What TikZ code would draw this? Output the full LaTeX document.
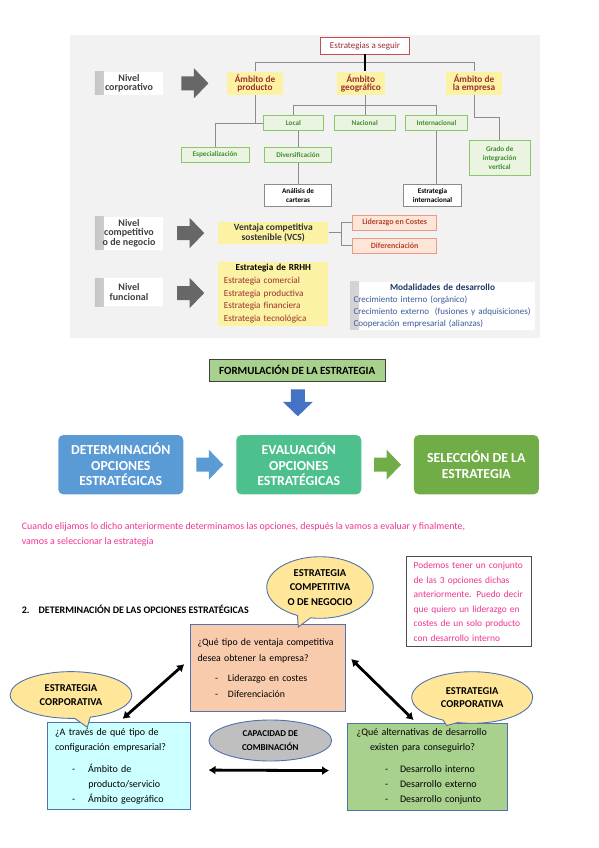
\documentclass[tikz,border=0pt]{standalone}
\usepackage{fontspec}
\setmainfont{Carlito}
\usetikzlibrary{positioning,calc,arrows.meta,shapes.geometric,shapes.callouts}
\newcommand{\fsz}[2]{\fontsize{#1}{#2}\selectfont}
\definecolor{cR}{HTML}{9C2F2F}
\definecolor{cRb}{HTML}{C0504D}
\definecolor{cY}{HTML}{FBF3A3}
\definecolor{cGt}{HTML}{3F8F2F}
\definecolor{cGb}{HTML}{8CC66A}
\definecolor{cGf}{HTML}{EBF4E0}
\definecolor{cOt}{HTML}{B5452F}
\definecolor{cOb}{HTML}{EA9C80}
\definecolor{cOf}{HTML}{FDE6D8}
\definecolor{cN}{HTML}{1F3864}
\definecolor{cNl}{HTML}{3A5A9A}
\definecolor{cK}{HTML}{676767}
\definecolor{cL}{HTML}{8C8C8C}
\definecolor{cP}{HTML}{F2F2F2}
\definecolor{cBl}{HTML}{5B9BD5}
\definecolor{cBd}{HTML}{4472C4}
\definecolor{cTe}{HTML}{4DC08E}
\definecolor{cLg}{HTML}{70AD47}
\definecolor{cFo}{HTML}{A9D18E}
\definecolor{cPe}{HTML}{F8CBAD}
\definecolor{cCy}{HTML}{CCFFFF}
\definecolor{cPk}{HTML}{F0338F}
\definecolor{cBub}{HTML}{FFE699}
\definecolor{cEd}{HTML}{5072AE}
\definecolor{cGy}{HTML}{BFBFBF}
\tikzset{
  pics/fat/.style={code={\fill[pic actions] (-13.5,-7)--(-1,-7)--(-1,-15)--(13.5,0)--(-1,15)--(-1,7)--(-13.5,7)--cycle;}},
}
\begin{document}
\begin{tikzpicture}[x=1pt,y=-1pt,
  rt/.style={draw=cRb,fill=white,line width=.8pt,text=cR,inner sep=0,minimum width=88.6,minimum height=16.7,font=\fsz{9}{10}},
  lv/.style={fill=white,inner sep=0,minimum width=68.3,align=center,text=black!75,font=\fsz{10}{9.9}\bfseries,
    path picture={\shade[left color=gray!45,right color=white] (path picture bounding box.south west) rectangle ([xshift=9pt]path picture bounding box.north west);}},
  am/.style={fill=cY,inner sep=0,minimum width=56.6,minimum height=23.3,align=center,text=cR,font=\fsz{9.3}{8.8}\bfseries},
  gr/.style={draw=cGb,fill=cGf,line width=.7pt,text=cGt,inner sep=0,minimum height=15,align=center,font=\fsz{7.2}{9}\bfseries},
  wt/.style={draw=cL,fill=white,line width=.6pt,inner sep=0,minimum width=67.4,minimum height=22.7,align=center,font=\fsz{7.2}{9.5}\bfseries},
  or/.style={draw=cOb,fill=cOf,line width=.7pt,text=cOt,inner sep=0,minimum width=84,minimum height=15,font=\fsz{8}{8}\bfseries},
  md/.style={fill=white,inner sep=0,minimum width=185,minimum height=48.3,text width=178,align=left,text=cNl,font=\fsz{9}{12.2},
    path picture={\shade[left color=gray!35,right color=white] (path picture bounding box.south west) rectangle ([xshift=9pt]path picture bounding box.north west);}},
  ln/.style={cL,line width=.9pt},
  fm/.style={draw=black!75,fill=cFo,line width=.8pt,inner sep=0,minimum width=175.7,minimum height=22,font=\fsz{11}{12}\bfseries},
  big/.style={rounded corners=5pt,inner sep=0,minimum width=125,minimum height=59.3,align=center,text=white,font=\fsz{13.8}{15.5}\bfseries},
  pk/.style={text=cPk,inner sep=0,anchor=west,font=\fsz{9.9}{11}},
  nt/.style={draw=black!70,fill=white,line width=.9pt,inner sep=0,minimum width=125,minimum height=90,text width=111,align=left,text=cPk,font=\fsz{9.4}{14.6}},
  qb/.style={draw=cEd,line width=1pt,inner xsep=8.3,inner ysep=0,align=left,font=\fsz{10}{15.5}},
  bub/.style={ellipse callout,draw=cEd,line width=.9pt,fill=cBub,inner sep=0,align=center,font=\fsz{10.5}{14.8}\bfseries},
  dar/.style={line width=2.8pt,{Latex[length=7pt,width=9pt]}-{Latex[length=7pt,width=9pt]}}]
\useasboundingbox (0,0) rectangle (599,848);
% --- niveles de estrategia ---
\fill[cP] (70,35) rectangle (540,338);
\node[rt] (est) at (365,45.7) {Estrategias a seguir};
\node[lv,minimum height=23.3] (nvc) at (129,83.3) {Nivel\\corporativo};
\node[am] (amp) at (255,83.3) {Ámbito de\\producto};
\node[am,minimum width=48.3] (amg) at (360.8,83.3) {Ámbito\\geográfico};
\node[am] (ame) at (474,83.3) {Ámbito de\\la empresa};
\pic[fill=cK] at ($(nvc.east)!.5!(amp.west)$) {fat};
\node[gr,minimum width=60] (loc) at (293.3,123.3) {Local};
\node[gr,minimum width=60.7] (nac) at (364.7,123.3) {Nacional};
\node[gr,minimum width=61.6] (int) at (436.5,123.3) {Internacional};
\node[gr,minimum width=68] (esp) at (215,154.7) {Especialización};
\node[gr,minimum width=67.4] (div) at (298,154.7) {Diversificación};
\node[wt] (ana) at (298,195.3) {Análisis de\\carteras};
\node[wt,minimum width=58.4] (ein) at (432.5,195.3) {Estrategia\\internacional};
\node[gr,minimum width=60.7,minimum height=34.3] (gra) at (499.7,157.8) {Grado de\\integración\\vertical};
\coordinate (bus) at (365,62.3);
\coordinate (geo) at (365,105);
\coordinate (emp) at (499.7,117.3);
\draw[ln] (amp.north) -- (amp.north |- bus) -- (ame.north |- bus) -- (ame.north);
\draw[line width=1.4pt] (est.south) -- (est.south |- amg.north);
\draw[ln] (est.south |- amg.south) -- (est.south |- nac.north);
\draw[ln] (loc.north) -- (loc.north |- geo) -- (int.north |- geo) -- (int.north);
\draw[ln] (amp.south) -- (amp.south |- loc.west);
\draw[ln] (esp.north) |- (loc.west);
\draw[ln] (div.north |- loc.south) -- (div.north);
\draw[ln] (div.south) -- (ana.north);
\draw[ln] (int.south) -- (int.south |- ein.north);
\draw[ln] (ame.south) |- (emp) -- (gra.north);
\node[lv,minimum height=33.3] (nvn) at (129,233.3) {Nivel\\competitivo\\o de negocio};
\node[am,minimum width=110,minimum height=22.3,text=black!80,font=\fsz{9.5}{9.3}\bfseries] (vcs) at (273.3,232.8) {Ventaja competitiva\\sostenible (VCS)};
\pic[fill=cK] at ($(nvn.east)!.5!(vcs.west)$) {fat};
\node[or] (lid) at (394.7,222.5) {Liderazgo en Costes};
\node[or] (dif) at (394.7,245.8) {Diferenciación};
\coordinate (brc) at (341.7,232.8);
\draw[ln] (vcs.east) -- (brc);
\draw[ln] (lid.west) -| (brc);
\draw[ln] (dif.west) -| (brc);
\node[lv,minimum height=27.7] (nvf) at (129,292.2) {Nivel\\funcional};
\node[am,minimum width=110,minimum height=64.3,text width=99,align=left,font=\fsz{9.2}{12.7}] (rrh) at (273.3,293.8)
  {\makebox[99pt]{\textcolor{black}{\bfseries Estrategia de RRHH}}\\Estrategia comercial\\Estrategia productiva\\Estrategia financiera\\Estrategia tecnológica};
\pic[fill=cK] at ($(nvf.east)!.5!(rrh.west)$) {fat};
\node[md] (mod) at (442.5,305.8)
  {\makebox[178pt]{\textcolor{cN}{\fsz{9.3}{12}\bfseries Modalidades de desarrollo}}\\Crecimiento interno (orgánico)\\Crecimiento externo\ \ (fusiones y adquisiciones)\\Cooperación empresarial (alianzas)};
% --- formulacion ---
\node[fm] (frm) at (297.2,370) {FORMULACIÓN DE LA ESTRATEGIA};
\node[big,fill=cBl] (det) at (120.8,464.7) {DETERMINACIÓN\\OPCIONES\\ESTRATÉGICAS};
\node[big,fill=cTe] (eva) at (298.8,464.7) {EVALUACIÓN\\OPCIONES\\ESTRATÉGICAS};
\node[big,fill=cLg] (sel) at (476.3,464.7) {SELECCIÓN DE LA\\ESTRATEGIA};
\pic[fill=cBd,rotate=-90] at ($(frm.south)!.4!(eva.north)$) {fat};
\pic[fill=cBl] at ($(det.east)!.5!(eva.west)$) {fat};
\pic[fill=cLg] at ($(eva.east)!.5!(sel.west)$) {fat};
\node[pk] (tx1) at (21.7,527.3) {Cuando elijamos lo dicho anteriormente determinamos las opciones, después la vamos a evaluar y finalmente,};
\node[pk] (tx2) at (21.7,542.3) {vamos a seleccionar la estrategia};
% --- opciones estrategicas ---
\node[anchor=west,inner sep=0,font=\fsz{10}{11}\bfseries] (hd) at (21.7,609.3) {2.\hspace{9pt}DETERMINACIÓN DE LAS OPCIONES ESTRATÉGICAS};
\node[nt] (note) at (469.2,601.7)
  {\makebox[111pt][s]{Podemos tener un conjunto}\\\makebox[111pt][s]{de las 3 opciones dichas}\\\makebox[111pt][s]{anteriormente. Puedo decir}\\\makebox[111pt][s]{que quiero un liderazgo en}\\\makebox[111pt][s]{costes de un solo producto}\\con desarrollo interno};
\node[qb,fill=cPe,minimum width=155,minimum height=86.7,inner xsep=7.5,text width=140,font=\fsz{9.8}{16}] (q1) at (267.5,668.3)
  {¿Qué tipo de ventaja competitiva\\desea obtener la empresa?\\[4pt]\hspace*{17.5pt}-\hspace{10pt}Liderazgo en costes\\\hspace*{17.5pt}-\hspace{10pt}Diferenciación};
\node[qb,fill=cCy,minimum width=142.3,minimum height=86.6,inner xsep=7.3,text width=127.7,font=\fsz{10}{15}] (qL) at (118.85,766)
  {¿A través de qué tipo de\\configuración empresarial?\\[7pt]\hspace*{17pt}-\hspace{13pt}Ámbito de\\\hspace*{33.3pt}producto/servicio\\\hspace*{17pt}-\hspace{13pt}Ámbito geográfico};
\node[qb,fill=cFo,minimum width=160,minimum height=86.7,inner xsep=9,text width=142,font=\fsz{10}{15}] (qR) at (427.7,766.7)
  {¿Qué alternativas de desarrollo\\\hspace*{13.3pt}existen para conseguirlo?\\[7pt]\hspace*{28.3pt}-\hspace{12pt}Desarrollo interno\\\hspace*{28.3pt}-\hspace{12pt}Desarrollo externo\\\hspace*{28.3pt}-\hspace{12pt}Desarrollo conjunto};
\node[ellipse,draw=cEd,fill=cGy,line width=.9pt,minimum width=122.7,minimum height=41,inner sep=0,align=center,font=\fsz{9}{13.3}\bfseries] (cap) at (270.3,740.5) {CAPACIDAD DE\\COMBINACIÓN};
\coordinate (tpC) at (298.3,627);
\coordinate (tpL) at (87.3,727.3);
\coordinate (tpR) at (446.7,725.5);
\node[bub,minimum width=106.6,minimum height=61.6,callout absolute pointer={(tpC)}] (bC) at (320,587.5) {ESTRATEGIA\\COMPETITIVA\\O DE NEGOCIO};
\node[bub,minimum width=121.7,minimum height=46.7,font=\fsz{10.5}{13.3}\bfseries,callout absolute pointer={(tpL)}] (bL) at (71,695) {ESTRATEGIA\\CORPORATIVA};
\node[bub,minimum width=121,minimum height=51.6,font=\fsz{10.5}{13.3}\bfseries,callout absolute pointer={(tpR)}] (bR) at (472.2,697.5) {ESTRATEGIA\\CORPORATIVA};
\draw[dar,shorten <=18pt,shorten >=18pt] ([yshift=-4pt]qL.east) -- ([yshift=-4pt]qR.west);
\draw[dar,shorten <=7pt,shorten >=5pt] ($(q1.north west)!.4!(q1.south west)$) -- (qL.north);
\draw[dar,shorten <=8pt,shorten >=4pt] ($(q1.north east)!.33!(q1.south east)$) -- ($(qR.north west)!.43!(qR.north east)$);
\end{tikzpicture}
\end{document}
